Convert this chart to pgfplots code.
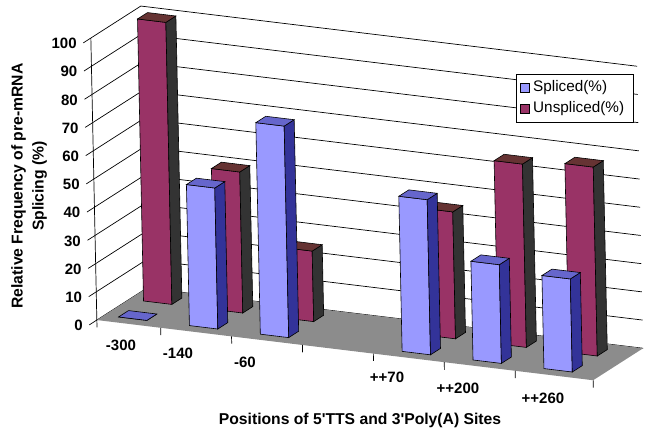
\documentclass[border=0pt]{standalone}
\usepackage{fontspec}
\setmainfont{Liberation Sans}
\usepackage{pgfplots}
\usepackage{pgfplotstable}
\pgfplotsset{compat=1.18}
\definecolor{sfront}{HTML}{9999FF}
\definecolor{sside}{HTML}{333399}
\definecolor{stop}{HTML}{6666CC}
\definecolor{ufront}{HTML}{993366}
\definecolor{uside}{HTML}{333333}
\definecolor{utop}{HTML}{663333}
\definecolor{floorgray}{HTML}{8C8C8C}

% position index (3 = empty category), Spliced(%), Unspliced(%)
\pgfplotstableread{
pos spliced unspliced
0 0 100
1 50 50
2 75 25
4 55 45
5 35 65
6 33 67
}\datatable

% #1 x centre, #2 depth, #3 value, #4 front, #5 side, #6 top colour
\newcommand\cuboid[6]{%
  \pgfmathsetmacro\xa{#1-0.2}%
  \pgfmathsetmacro\xb{#1+0.2}%
  \pgfmathsetmacro\da{#2}%
  \pgfmathsetmacro\db{#2+0.2}%
  \edef\tmp{\noexpand\addplot3[fill=#4,draw=black,line width=0.6pt,forget plot] coordinates {(\xa,\da,0) (\xb,\da,0) (\xb,\da,#3) (\xa,\da,#3)} --cycle;}\tmp
  \edef\tmp{\noexpand\addplot3[fill=#5,draw=black,line width=0.6pt,forget plot] coordinates {(\xb,\da,0) (\xb,\db,0) (\xb,\db,#3) (\xb,\da,#3)} --cycle;}\tmp
  \edef\tmp{\noexpand\addplot3[fill=#6,draw=black,line width=0.6pt,forget plot] coordinates {(\xa,\da,#3) (\xb,\da,#3) (\xb,\db,#3) (\xa,\db,#3)} --cycle;}\tmp
}

\begin{document}
\begin{tikzpicture}
\begin{axis}[
  x={(70.9pt,-8.6pt)}, y={(50pt,32pt)}, z={(-0.06pt,2.82pt)},
  xmin=-0.4, xmax=6.6, ymin=-0.2, ymax=1, zmin=-5, zmax=100,
  hide axis, clip=false,
]
% wall gridlines (left wall + back wall), with left ticks
\pgfplotsinvokeforeach{0,10,20,30,40,50,60,70,80,90,100}{%
  \addplot3[black,line width=0.7pt,forget plot] coordinates {(-0.4,-0.15,#1) (-0.4,1,#1) (6.6,1,#1)};
  \node[anchor=east,inner sep=1.5pt,xshift=-4pt,font=\bfseries\fontsize{15}{18}\selectfont] at (axis cs:-0.4,-0.17,#1) {#1};
}
% floor
\addplot3[fill=floorgray,draw=none,forget plot] coordinates {(-0.4,0,0) (6.6,0,0) (6.6,1,0) (-0.4,1,0)} --cycle;
% value axis line
\addplot3[black,line width=0.7pt,forget plot] coordinates {(-0.4,0,0) (-0.4,0,100)};
% category ticks
\pgfplotsinvokeforeach{-0.4,0.5,1.5,2.5,3.5,4.5,5.5,6.6}{%
  \addplot3[black,line width=0.7pt,forget plot] coordinates {(#1,0,0) (#1,0,-2.6)};
}
% back row: Unspliced
\pgfplotsforeachungrouped \r in {0,1,2,3,4,5}{%
  \pgfplotstablegetelem{\r}{pos}\of\datatable \let\px\pgfplotsretval
  \pgfplotstablegetelem{\r}{unspliced}\of\datatable \let\pv\pgfplotsretval
  \cuboid{\px}{0.65}{\pv}{ufront}{uside}{utop}%
}
% front row: Spliced
\pgfplotsforeachungrouped \r in {0,1,2,3,4,5}{%
  \pgfplotstablegetelem{\r}{pos}\of\datatable \let\px\pgfplotsretval
  \pgfplotstablegetelem{\r}{spliced}\of\datatable \let\pv\pgfplotsretval
  \cuboid{\px}{0.15}{\pv}{sfront}{sside}{stop}%
}
\coordinate (O) at (axis cs:0,0,0);
\end{axis}
\pgfresetboundingbox
\begin{scope}[shift={(O)}]
\begin{scope}[shift={(-125.2pt,-119.5pt)}, x=1pt, y=1pt]
  \path[use as bounding box] (0,0) rectangle (654,443);
  \begin{scope}[every node/.style={font=\bfseries\fontsize{15}{18}\selectfont, inner sep=0pt}]
    \node at (121,98) {-300};
    \node at (178,90) {-140};
    \node at (245,81) {-60};
    \node at (387,66) {++70};
    \node at (458,55) {++200};
    \node at (543,45) {++260};
  \end{scope}
  \node[font=\bfseries\fontsize{15.7}{19}\selectfont] at (360,23) {Positions of 5\textquotesingle TTS and 3\textquotesingle Poly(A) Sites};
  \node[rotate=90, align=center, font=\bfseries\fontsize{15.7}{21}\selectfont] at (29,257) {Relative Frequency of pre-mRNA\\Splicing (\%)};
  % legend
  \draw[fill=white, line width=0.6pt] (516,321) rectangle (633,369);
  \draw[fill=sfront, line width=0.5pt] (520,350.5) rectangle (529,359.5);
  \node[anchor=west, inner sep=0pt, font=\fontsize{15.3}{18}\selectfont] at (533,355) {Spliced(\%)};
  \draw[fill=ufront, line width=0.5pt] (520,329.5) rectangle (529,338.5);
  \node[anchor=west, inner sep=0pt, font=\fontsize{15.3}{18}\selectfont] at (533,334) {Unspliced(\%)};
\end{scope}
\end{scope}
\end{tikzpicture}
\end{document}
